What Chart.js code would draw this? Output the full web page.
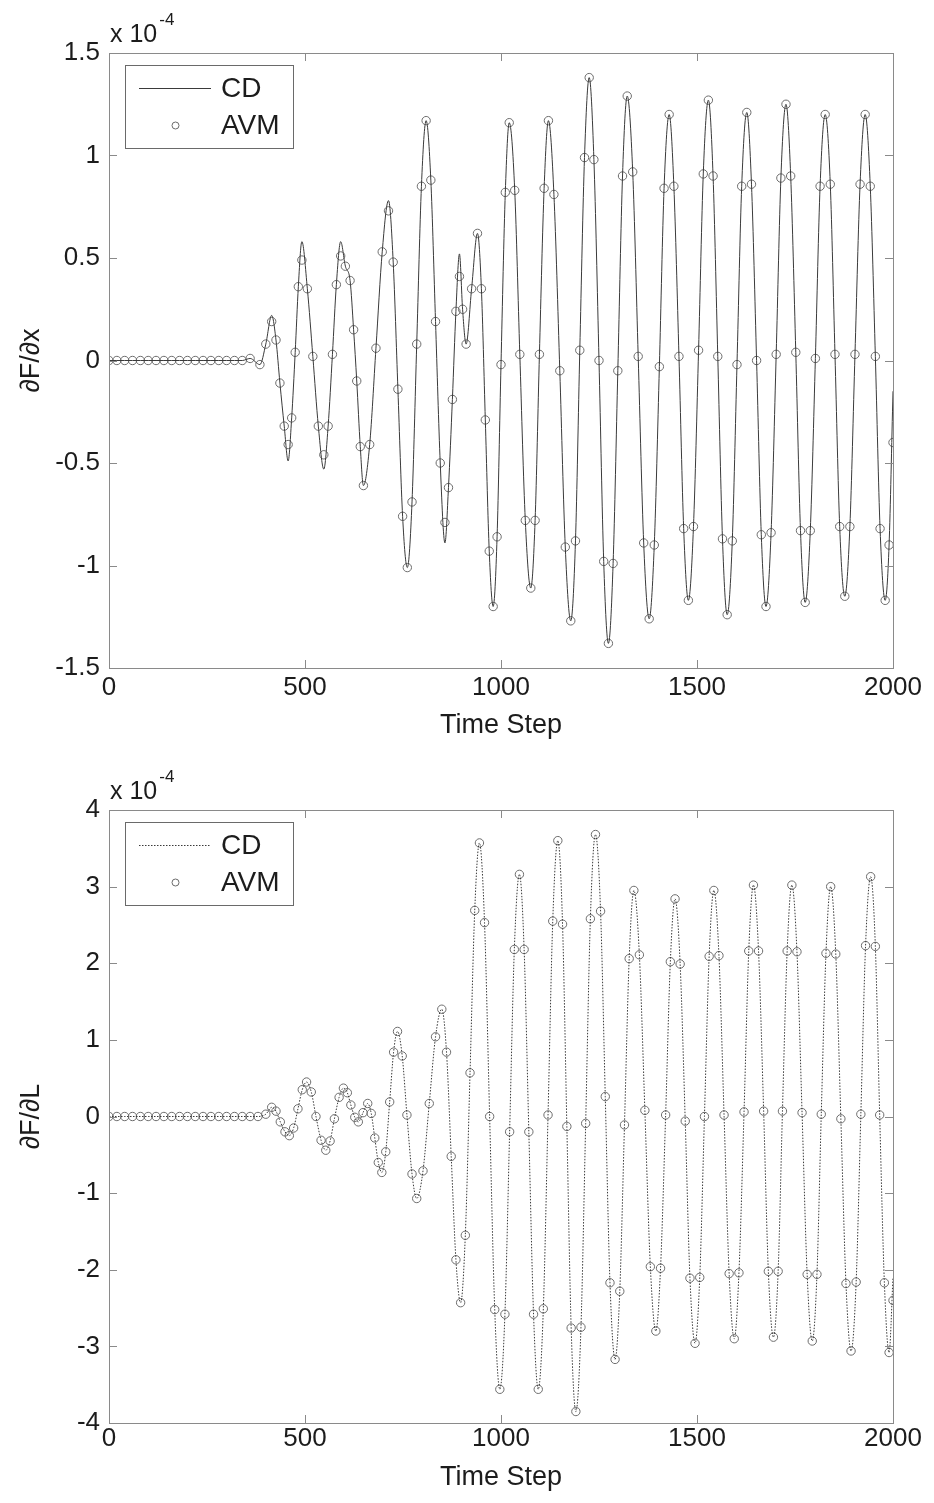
<!DOCTYPE html>
<html lang="en">
<head>
    <meta charset="UTF-8">
    <title>Gradient comparison: CD vs AVM</title>
    <script src="https://cdn.jsdelivr.net/npm/chart.js"></script>
    <style>
        body {
            margin: 0;
            background: #ffffff;
        }
        .page {
            position: relative;
            width: 934px;
            height: 1503px;
        }
        .panel {
            position: absolute;
            left: 0;
        }
        .panel canvas {
            display: block;
        }
        #topPanel { top: 0; }
        #botPanel { top: 745px; }
    </style>
</head>
<body>
    <div class="page">
        <div class="panel" id="topPanel"><canvas id="topChart" width="934" height="745"></canvas></div>
        <div class="panel" id="botPanel"><canvas id="botChart" width="934" height="758"></canvas></div>
    </div>

    <script>
        // values are in units of 1e-4 (the axes carry an "x 10^-4" multiplier)

        // top panel: dF/dx
        const topSteps = [
            0, 20, 40, 60, 80, 100, 120, 140, 160, 180,
            200, 220, 240, 260, 280, 300, 320, 340, 360, 385,
            400, 415, 426, 436, 447, 457, 466, 475, 483, 492,
            506, 520, 534, 548, 559, 570, 580, 591, 603, 615,
            624, 632, 641, 649, 665, 681, 697, 713, 725, 737,
            749, 761, 773, 785, 797, 809, 821, 833, 845, 857,
            866, 876, 885, 894, 902, 911, 925, 940, 950, 960,
            970, 980, 990, 1000, 1011, 1021, 1035, 1048, 1062, 1076,
            1087, 1098, 1110, 1121, 1135, 1150, 1164, 1178, 1190, 1201,
            1213, 1225, 1237, 1250, 1262, 1274, 1286, 1298, 1310, 1322,
            1336, 1350, 1364, 1378, 1391, 1404, 1416, 1429, 1441, 1454,
            1466, 1478, 1491, 1504, 1516, 1529, 1541, 1553, 1565, 1577,
            1590, 1602, 1614, 1627, 1639, 1652, 1664, 1676, 1689, 1702,
            1714, 1727, 1739, 1752, 1764, 1776, 1789, 1802, 1814, 1827,
            1840, 1852, 1864, 1877, 1890, 1903, 1916, 1929, 1942, 1955,
            1967, 1980, 1990, 2000
        ];
        const topCD = [
            0, 0, 0, 0, 0, 0, 0, 0, 0, 0,
            0, 0, 0, 0, 0, 0, 0, 0, 0.01, -0.02,
            0.08, 0.22, 0.10, -0.11, -0.32, -0.49, -0.28, 0.04, 0.36, 0.58,
            0.35, 0.02, -0.32, -0.53, -0.32, 0.03, 0.37, 0.58, 0.46, 0.39,
            0.15, -0.10, -0.42, -0.61, -0.41, 0.06, 0.53, 0.78, 0.48, -0.14,
            -0.76, -1.01, -0.69, 0.08, 0.85, 1.17, 0.88, 0.19, -0.50, -0.89,
            -0.62, -0.19, 0.24, 0.52, 0.25, 0.08, 0.35, 0.62, 0.35, -0.29,
            -0.93, -1.20, -0.86, -0.02, 0.82, 1.16, 0.83, 0.03, -0.78, -1.11,
            -0.78, 0.03, 0.84, 1.17, 0.81, -0.05, -0.91, -1.27, -0.88, 0.05,
            0.99, 1.38, 0.98, 0.00, -0.98, -1.38, -0.99, -0.05, 0.90, 1.29,
            0.92, 0.02, -0.89, -1.26, -0.90, -0.03, 0.84, 1.20, 0.85, 0.02,
            -0.82, -1.17, -0.81, 0.05, 0.91, 1.27, 0.90, 0.02, -0.87, -1.24,
            -0.88, -0.02, 0.85, 1.21, 0.86, 0.00, -0.85, -1.20, -0.84, 0.03,
            0.89, 1.25, 0.90, 0.04, -0.83, -1.18, -0.83, 0.01, 0.85, 1.20,
            0.86, 0.03, -0.81, -1.15, -0.81, 0.03, 0.86, 1.20, 0.85, 0.02,
            -0.82, -1.17, -0.90, -0.15
        ];
        const topAVM = [
            0, 0, 0, 0, 0, 0, 0, 0, 0, 0,
            0, 0, 0, 0, 0, 0, 0, 0, 0.01, -0.02,
            0.08, 0.19, 0.10, -0.11, -0.32, -0.41, -0.28, 0.04, 0.36, 0.49,
            0.35, 0.02, -0.32, -0.46, -0.32, 0.03, 0.37, 0.51, 0.46, 0.39,
            0.15, -0.10, -0.42, -0.61, -0.41, 0.06, 0.53, 0.73, 0.48, -0.14,
            -0.76, -1.01, -0.69, 0.08, 0.85, 1.17, 0.88, 0.19, -0.50, -0.79,
            -0.62, -0.19, 0.24, 0.41, 0.25, 0.08, 0.35, 0.62, 0.35, -0.29,
            -0.93, -1.20, -0.86, -0.02, 0.82, 1.16, 0.83, 0.03, -0.78, -1.11,
            -0.78, 0.03, 0.84, 1.17, 0.81, -0.05, -0.91, -1.27, -0.88, 0.05,
            0.99, 1.38, 0.98, 0.00, -0.98, -1.38, -0.99, -0.05, 0.90, 1.29,
            0.92, 0.02, -0.89, -1.26, -0.90, -0.03, 0.84, 1.20, 0.85, 0.02,
            -0.82, -1.17, -0.81, 0.05, 0.91, 1.27, 0.90, 0.02, -0.87, -1.24,
            -0.88, -0.02, 0.85, 1.21, 0.86, 0.00, -0.85, -1.20, -0.84, 0.03,
            0.89, 1.25, 0.90, 0.04, -0.83, -1.18, -0.83, 0.01, 0.85, 1.20,
            0.86, 0.03, -0.81, -1.15, -0.81, 0.03, 0.86, 1.20, 0.85, 0.02,
            -0.82, -1.17, -0.90, -0.40
        ];

        // bottom panel: dF/dL
        const botSteps = [
            0, 20, 40, 60, 80, 100, 120, 140, 160, 180,
            200, 220, 240, 260, 280, 300, 320, 340, 360, 380,
            400, 415, 426, 437, 449, 460, 471, 482, 493, 504,
            516, 528, 541, 553, 564, 575, 587, 598, 608, 617,
            627, 636, 648, 660, 669, 678, 687, 696, 706, 716,
            726, 736, 748, 760, 773, 785, 801, 817, 833, 849,
            861, 873, 885, 897, 909, 921, 933, 945, 958, 971,
            984, 997, 1010, 1022, 1034, 1047, 1059, 1071, 1083, 1095,
            1108, 1120, 1132, 1145, 1157, 1168, 1179, 1191, 1204, 1216,
            1228, 1241, 1254, 1266, 1278, 1291, 1303, 1315, 1327, 1339,
            1353, 1367, 1381, 1395, 1407, 1420, 1432, 1444, 1457, 1470,
            1482, 1495, 1507, 1519, 1531, 1543, 1556, 1569, 1582, 1595,
            1607, 1620, 1632, 1644, 1657, 1670, 1682, 1695, 1707, 1718,
            1730, 1742, 1755, 1768, 1781, 1794, 1806, 1817, 1829, 1841,
            1854, 1867, 1880, 1893, 1906, 1918, 1930, 1943, 1955, 1966,
            1978, 1990, 2000
        ];
        const botCD = [
            0, 0, 0, 0, 0, 0, 0, 0, 0, 0,
            0, 0, 0, 0, 0, 0, 0, 0, 0, 0,
            0.03, 0.12, 0.07, -0.07, -0.20, -0.25, -0.15, 0.10, 0.35, 0.45,
            0.32, 0.00, -0.31, -0.44, -0.32, -0.03, 0.25, 0.37, 0.31, 0.15,
            -0.01, -0.07, 0.05, 0.17, 0.04, -0.28, -0.60, -0.73, -0.46, 0.19,
            0.84, 1.11, 0.79, 0.02, -0.75, -1.07, -0.71, 0.17, 1.04, 1.40,
            0.84, -0.52, -1.87, -2.43, -1.55, 0.57, 2.69, 3.57, 2.53, 0.00,
            -2.52, -3.56, -2.58, -0.20, 2.18, 3.16, 2.18, -0.20, -2.58, -3.56,
            -2.51, 0.02, 2.55, 3.60, 2.51, -0.13, -2.76, -3.85, -2.75, -0.09,
            2.58, 3.68, 2.68, 0.26, -2.17, -3.17, -2.28, -0.11, 2.06, 2.95,
            2.11, 0.08, -1.96, -2.80, -1.98, 0.02, 2.02, 2.84, 1.99, -0.06,
            -2.11, -2.96, -2.10, 0.00, 2.09, 2.95, 2.10, 0.02, -2.05, -2.90,
            -2.04, 0.06, 2.16, 3.02, 2.16, 0.07, -2.02, -2.88, -2.02, 0.07,
            2.16, 3.02, 2.15, 0.05, -2.06, -2.93, -2.06, 0.03, 2.13, 3.00,
            2.12, -0.03, -2.18, -3.06, -2.16, 0.03, 2.23, 3.13, 2.22, 0.02,
            -2.17, -3.08, -2.10
        ];
        const botAVM = [
            0, 0, 0, 0, 0, 0, 0, 0, 0, 0,
            0, 0, 0, 0, 0, 0, 0, 0, 0, 0,
            0.03, 0.12, 0.07, -0.07, -0.20, -0.25, -0.15, 0.10, 0.35, 0.45,
            0.32, 0.00, -0.31, -0.44, -0.32, -0.03, 0.25, 0.37, 0.31, 0.15,
            -0.01, -0.07, 0.05, 0.17, 0.04, -0.28, -0.60, -0.73, -0.46, 0.19,
            0.84, 1.11, 0.79, 0.02, -0.75, -1.07, -0.71, 0.17, 1.04, 1.40,
            0.84, -0.52, -1.87, -2.43, -1.55, 0.57, 2.69, 3.57, 2.53, 0.00,
            -2.52, -3.56, -2.58, -0.20, 2.18, 3.16, 2.18, -0.20, -2.58, -3.56,
            -2.51, 0.02, 2.55, 3.60, 2.51, -0.13, -2.76, -3.85, -2.75, -0.09,
            2.58, 3.68, 2.68, 0.26, -2.17, -3.17, -2.28, -0.11, 2.06, 2.95,
            2.11, 0.08, -1.96, -2.80, -1.98, 0.02, 2.02, 2.84, 1.99, -0.06,
            -2.11, -2.96, -2.10, 0.00, 2.09, 2.95, 2.10, 0.02, -2.05, -2.90,
            -2.04, 0.06, 2.16, 3.02, 2.16, 0.07, -2.02, -2.88, -2.02, 0.07,
            2.16, 3.02, 2.15, 0.05, -2.06, -2.93, -2.06, 0.03, 2.13, 3.00,
            2.12, -0.03, -2.18, -3.06, -2.16, 0.03, 2.23, 3.13, 2.22, 0.02,
            -2.17, -3.08, -2.40
        ];

        const xTicks = [0, 500, 1000, 1500, 2000];
        const topYTicks = [-1.5, -1, -0.5, 0, 0.5, 1, 1.5];
        const botYTicks = [-4, -3, -2, -1, 0, 1, 2, 3, 4];

        const FONT = "'Liberation Sans', Arial, Helvetica, sans-serif";
        const TEXT_COLOR = '#1c1c1c';
        const AXIS_COLOR = '#8a8a8a';

        // MATLAB style box with inward ticks, the "x 10^-4" multiplier and the boxed legend
        const matlabAxes = {
            id: 'matlabAxes',
            afterDraw(chart, args, opts) {
                const ctx = chart.ctx;
                const a = chart.chartArea;
                const xs = chart.scales.x;
                const ys = chart.scales.y;
                ctx.save();

                ctx.strokeStyle = AXIS_COLOR;
                ctx.lineWidth = 1;
                ctx.strokeRect(Math.round(a.left) + 0.5, Math.round(a.top) + 0.5,
                    Math.round(a.right - a.left), Math.round(a.bottom - a.top));
                const len = 8;
                ctx.beginPath();
                xs.ticks.forEach(t => {
                    const px = Math.round(xs.getPixelForValue(t.value)) + 0.5;
                    ctx.moveTo(px, a.bottom); ctx.lineTo(px, a.bottom - len);
                    ctx.moveTo(px, a.top); ctx.lineTo(px, a.top + len);
                });
                ys.ticks.forEach(t => {
                    const py = Math.round(ys.getPixelForValue(t.value)) + 0.5;
                    ctx.moveTo(a.left, py); ctx.lineTo(a.left + len, py);
                    ctx.moveTo(a.right, py); ctx.lineTo(a.right - len, py);
                });
                ctx.stroke();

                // exponent
                ctx.fillStyle = TEXT_COLOR;
                ctx.textAlign = 'left';
                ctx.textBaseline = 'alphabetic';
                ctx.font = '25px ' + FONT;
                ctx.fillText('x 10', a.left + 1, a.top - 11);
                const w = ctx.measureText('x 10').width;
                ctx.font = '17px ' + FONT;
                ctx.fillText(opts.exponent, a.left + 3 + w, a.top - 28);

                // legend
                const lx = Math.round(a.left) + 16;
                const ly = Math.round(a.top) + 12;
                ctx.fillStyle = '#ffffff';
                ctx.fillRect(lx, ly, 168, 83);
                ctx.strokeStyle = '#6a6a6a';
                ctx.strokeRect(lx + 0.5, ly + 0.5, 168, 83);

                const cd = chart.data.datasets[0];
                const avm = chart.data.datasets[1];
                ctx.beginPath();
                ctx.strokeStyle = cd.borderColor;
                ctx.lineWidth = cd.borderWidth;
                ctx.setLineDash(cd.borderDash || []);
                ctx.moveTo(lx + 14, ly + 23.5);
                ctx.lineTo(lx + 86, ly + 23.5);
                ctx.stroke();
                ctx.setLineDash([]);
                ctx.beginPath();
                ctx.strokeStyle = avm.pointBorderColor;
                ctx.lineWidth = 1;
                ctx.arc(lx + 50.5, ly + 60.5, 3.5, 0, Math.PI * 2);
                ctx.stroke();

                ctx.fillStyle = TEXT_COLOR;
                ctx.font = '28px ' + FONT;
                ctx.textBaseline = 'middle';
                ctx.fillText(cd.label, lx + 96, ly + 24);
                ctx.fillText(avm.label, lx + 96, ly + 61);

                ctx.restore();
            }
        };

        function makePanel(canvasId, steps, cd, avm, yTicks, yTitle, cdDash, areaTop, xHeight, tickPad, titlePad) {
            const ctx = document.getElementById(canvasId).getContext('2d');
            return new Chart(ctx, {
                type: 'line',
                data: {
                    datasets: [{
                        label: 'CD',
                        data: steps.map((s, i) => ({ x: s, y: cd[i] })),
                        borderColor: '#3a3a3a',
                        borderWidth: 1,
                        borderDash: cdDash,
                        pointRadius: 0,
                        cubicInterpolationMode: 'monotone',
                        fill: false
                    }, {
                        label: 'AVM',
                        data: steps.map((s, i) => ({ x: s, y: avm[i] })),
                        showLine: false,
                        pointStyle: 'circle',
                        pointRadius: 4.2,
                        pointBorderWidth: 1,
                        pointBorderColor: '#6c6c6c',
                        pointBackgroundColor: 'rgba(255,255,255,0)'
                    }]
                },
                options: {
                    responsive: false,
                    animation: false,
                    events: [],
                    layout: { padding: { top: areaTop, right: 41, left: 0, bottom: 0 } },
                    plugins: {
                        legend: { display: false },
                        tooltip: { enabled: false },
                        matlabAxes: { exponent: '-4' }
                    },
                    scales: {
                        x: {
                            type: 'linear',
                            min: xTicks[0],
                            max: xTicks[xTicks.length - 1],
                            afterBuildTicks: s => { s.ticks = xTicks.map(v => ({ value: v })); },
                            afterFit: s => { s.height = xHeight; },
                            grid: { display: false, drawTicks: false },
                            border: { display: false },
                            ticks: {
                                maxRotation: 0,
                                padding: tickPad,
                                color: TEXT_COLOR,
                                font: { family: FONT, size: 26 },
                                callback: v => String(v)
                            },
                            title: {
                                display: true,
                                text: 'Time Step',
                                color: TEXT_COLOR,
                                font: { family: FONT, size: 27 },
                                padding: { top: 0, bottom: titlePad }
                            }
                        },
                        y: {
                            type: 'linear',
                            min: yTicks[0],
                            max: yTicks[yTicks.length - 1],
                            afterBuildTicks: s => { s.ticks = yTicks.map(v => ({ value: v })); },
                            afterFit: s => { s.width = 109; },
                            grid: { display: false, drawTicks: false },
                            border: { display: false },
                            ticks: {
                                padding: 9,
                                color: TEXT_COLOR,
                                font: { family: FONT, size: 26 },
                                callback: v => String(v)
                            },
                            title: {
                                display: true,
                                text: yTitle,
                                color: TEXT_COLOR,
                                font: { family: FONT, size: 27 },
                                padding: { top: 15, bottom: 0 }
                            }
                        }
                    }
                },
                plugins: [matlabAxes]
            });
        }

        makePanel('topChart', topSteps, topCD, topAVM, topYTicks, '\u2202F/\u2202x', [], 53, 77, 4, 3);
        makePanel('botChart', botSteps, botCD, botAVM, botYTicks, '\u2202F/\u2202L', [1.5, 1.5], 65, 80, 0, 9);
    </script>
</body>
</html>
